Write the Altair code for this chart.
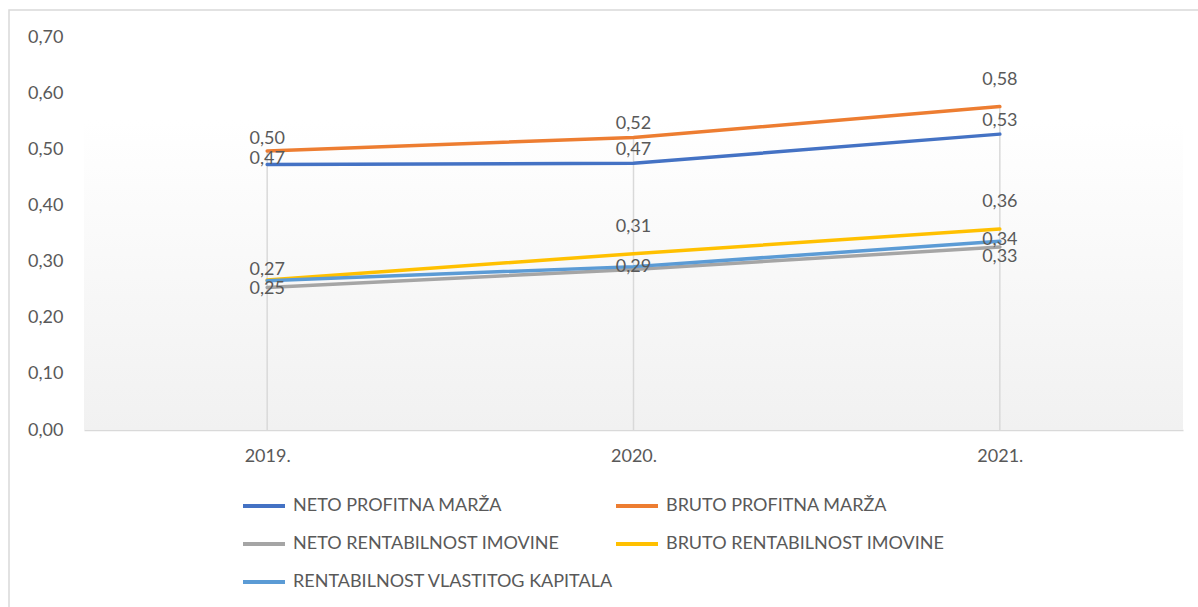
import altair as alt
import pandas as pd

# ---- data ----
YEARS = ["2019.", "2020.", "2021."]
SERIES = [
    "NETO PROFITNA MARŽA",
    "BRUTO PROFITNA MARŽA",
    "NETO RENTABILNOST IMOVINE",
    "BRUTO RENTABILNOST IMOVINE",
    "RENTABILNOST VLASTITOG KAPITALA",
]
NETO_PROFITNA_MARZA = [0.473, 0.475, 0.527]
BRUTO_PROFITNA_MARZA = [0.497, 0.521, 0.576]
NETO_RENTABILNOST_IMOVINE = [0.254, 0.286, 0.326]
BRUTO_RENTABILNOST_IMOVINE = [0.267, 0.314, 0.358]
RENTABILNOST_VLASTITOG_KAPITALA = [0.266, 0.291, 0.336]

VALUES = [
    NETO_PROFITNA_MARZA,
    BRUTO_PROFITNA_MARZA,
    NETO_RENTABILNOST_IMOVINE,
    BRUTO_RENTABILNOST_IMOVINE,
    RENTABILNOST_VLASTITOG_KAPITALA,
]

# ---- styles ----
COLORS = ["#4472C4", "#ED7D31", "#A5A5A5", "#FFC000", "#5B9BD5"]
# data-label vertical offsets in px per series/year (None = label not shown)
LABEL_DY = [
    [-5, -13, -13],
    [-12, -13, -27],
    [2, None, 10],
    [-10, -27, -27],
    [None, 0, -1],
]
FONT = "Lato"
TXT = "#595959"
W, H = 1099, 393

rows = []
for s, vals in zip(SERIES, VALUES):
    for y, v in zip(YEARS, vals):
        rows.append({"series": s, "year": y, "value": v})
df = pd.DataFrame(rows)

XSCALE = alt.Scale(type="point", padding=0.5)
YSCALE = alt.Scale(domain=[0, 0.7], nice=False)
X_AXIS = alt.Axis(
    title=None, labelAngle=0, ticks=False, domain=True, domainColor="#d9d9d9",
    domainWidth=1.5, grid=False,
    labelFont=FONT, labelFontSize=18, labelColor=TXT, labelPadding=17,
)
Y_AXIS = alt.Axis(
    title=None, values=[0, 0.1, 0.2, 0.3, 0.4, 0.5, 0.6, 0.7],
    labelExpr="replace(format(datum.value, '.2f'), '.', ',')",
    ticks=False, domain=False, grid=False,
    labelFont=FONT, labelFontSize=18, labelColor=TXT, labelPadding=21,
)


def xe():
    return alt.X("year:N", sort=YEARS, scale=XSCALE, axis=X_AXIS)


def ye(field="value"):
    return alt.Y(f"{field}:Q", scale=YSCALE, axis=Y_AXIS)


frame = alt.Chart(pd.DataFrame({"a": [0]})).mark_rect(
    fill=None, stroke="#d9d9d9", strokeWidth=1.5
).encode(x=alt.value(-75), x2=alt.value(1140), y=alt.value(-27), y2=alt.value(620))

gradient = alt.Chart(pd.DataFrame({"a": [0]})).mark_rect(
    fill=alt.Gradient(
        gradient="linear",
        stops=[alt.GradientStop(color="#ffffff", offset=0),
               alt.GradientStop(color="#f1f1f1", offset=1)],
        x1=0, x2=0, y1=0, y2=1,
    )
).encode(x=alt.value(0), x2=alt.value(W), y=alt.value(83), y2=alt.value(H))

# Excel-style drop lines: from each category's highest value down to the axis
drops = alt.Chart(df).transform_aggregate(
    top="max(value)", groupby=["year"]
).mark_rule(color="#d9d9d9", strokeWidth=1.5).encode(
    x=xe(),
    y=ye("top"),
    y2=alt.datum(0),
)

lines = alt.Chart(df).mark_line(strokeWidth=3.5, strokeJoin="round", strokeCap="round").encode(
    x=xe(),
    y=ye(),
    color=alt.Color(
        "series:N",
        sort=SERIES,
        scale=alt.Scale(domain=SERIES, range=COLORS),
        legend=alt.Legend(
            title=None, orient="none", legendX=157, legendY=446, columns=2,
            direction="horizontal",
            symbolType="stroke", symbolSize=1764, symbolStrokeWidth=4,
            labelFont=FONT, labelFontSize=18, labelColor=TXT, labelOffset=6,
            labelLimit=400, rowPadding=6, columnPadding=-18,
        ),
    ),
    order=alt.Order("year:N"),
)

label_layers = []
for si, s in enumerate(SERIES):
    for yi, yr in enumerate(YEARS):
        dy = LABEL_DY[si][yi]
        if dy is None:
            continue
        label_layers.append(
            alt.Chart(df).transform_filter(
                (alt.datum.series == s) & (alt.datum.year == yr)
            ).transform_calculate(
                lab="replace(format(datum.value, '.2f'), '.', ',')"
            ).mark_text(
                font=FONT, fontSize=18, color=TXT, baseline="middle", align="center", dy=dy
            ).encode(x=xe(), y=ye(), text="lab:N")
        )

chart = alt.layer(frame, gradient, drops, lines, *label_layers).properties(
    width=W, height=H,
    background="#ffffff",
    autosize=alt.AutoSizeParams(type="none"),
    padding={"left": 84, "top": 37, "right": 15, "bottom": 177},
).configure_view(stroke=None)

chart.save("out.html", embed_options={"renderer": "svg", "actions": False})
